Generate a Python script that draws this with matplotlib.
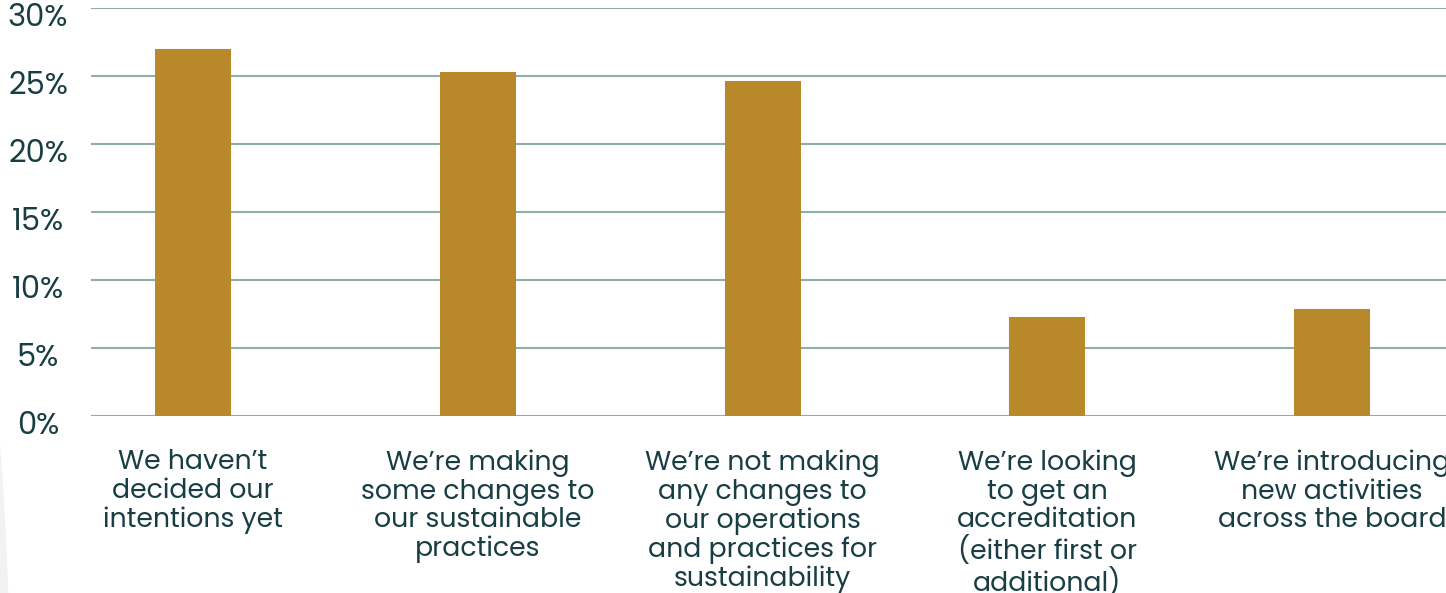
import matplotlib
matplotlib.use("Agg")
import matplotlib.pyplot as plt
from matplotlib.patches import Circle
from matplotlib.transforms import ScaledTranslation

categories = [
    "We haven’t\ndecided our\nintentions yet",
    "We’re making\nsome changes to\nour sustainable\npractices",
    "We’re not making\nany changes to\nour operations\nand practices for\nsustainability",
    "We’re looking\nto get an\naccreditation\n(either first or\nadditional)",
    "We’re introducing\nnew activities\nacross the board",
]
values = [27.0, 25.3, 24.6, 7.3, 7.9]
yticks = [0, 5, 10, 15, 20, 25, 30]
ytick_labels = ["0%", "5%", "10%", "15%", "20%", "25%", "30%"]

BAR = "#B8882A"
GRID = "#8FAEA6"
TEXT = "#183E44"
FONT = ["Poppins", "Lato", "DejaVu Sans"]

W, H, DPI = 1446, 593, 100
fig = plt.figure(figsize=(W / DPI, H / DPI), dpi=DPI)
fig.patch.set_facecolor("white")

# faint background disc peeking in at the lower-left edge
fig.patches.append(Circle((-32.81, -1.07), 32.91, transform=fig.dpi_scale_trans,
                          facecolor="#F1F3F3", edgecolor="none", zorder=0))

left, bottom, top = 91 / W, 1 - 416 / H, 1 - 8 / H
ax = fig.add_axes([left, bottom, 1 - left, top - bottom])
ax.set_facecolor("none")

x = list(range(len(categories)))
ax.bar(x, values, width=0.267, color=BAR, zorder=3)

ax.set_ylim(0, 30)
ax.set_xlim(-0.358, 4.40)
ax.set_yticks(yticks)
ax.set_yticklabels(ytick_labels, fontsize=22, color=TEXT, family=FONT, ha="center")
ax.tick_params(axis="y", length=0, pad=53 * 0.72)
ax.set_xticks([])
for lab in ax.get_yticklabels():
    lab.set_transform(lab.get_transform() + ScaledTranslation(0, -7 / DPI, fig.dpi_scale_trans))

ax.yaxis.grid(True, color=GRID, linewidth=1.5, zorder=1)
ax.set_axisbelow(True)
for s in ax.spines.values():
    s.set_visible(False)

for xi, lab in zip(x, categories):
    ax.text(xi, -0.082, lab, transform=ax.get_xaxis_transform(), ha="center", va="top",
            fontsize=19.3, color=TEXT, family=FONT, linespacing=1.08, clip_on=False)

fig.savefig("out.png", dpi=DPI)
